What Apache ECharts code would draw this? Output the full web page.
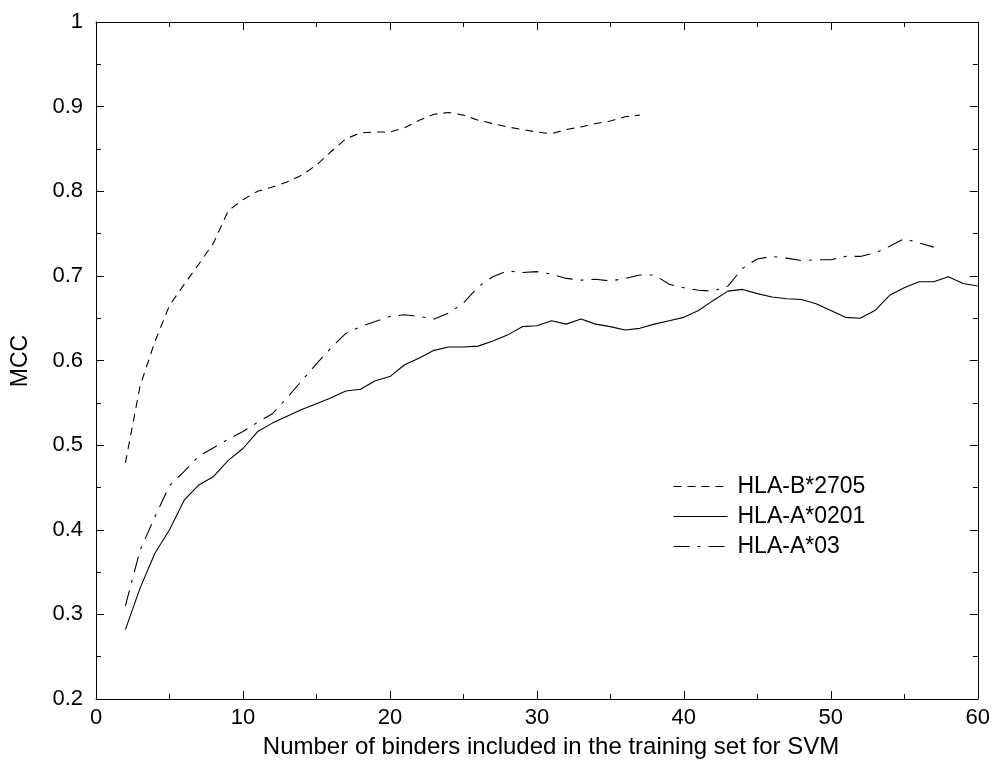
<!DOCTYPE html>
<html>
<head>
<meta charset="utf-8">
<script src="https://cdn.jsdelivr.net/npm/echarts@6/dist/echarts.min.js"></script>
<style>html,body{margin:0;padding:0;background:#fff;}#chart{width:993px;height:761px;}</style>
</head>
<body>
<div id="chart"></div>
<script>
var xValues = [2,3,4,5,6,7,8,9,10,11,12,13,14,15,16,17,18,19,20,21,22,23,24,25,26,27,28,29,30,31,32,33,34,35,36,37,38,39,40,41,42,43,44,45,46,47,48,49,50,51,52,53,54,55,56,57,58,59,60];
var seriesNames = ['HLA-B*2705', 'HLA-A*0201', 'HLA-A*03'];
var mccB2705 = [0.479,0.570,0.622,0.665,0.690,0.714,0.739,0.777,0.790,0.800,0.805,0.811,0.819,0.831,0.847,0.862,0.869,0.870,0.870,0.875,0.884,0.891,0.893,0.890,0.884,0.880,0.876,0.873,0.870,0.868,0.873,0.876,0.880,0.883,0.888,0.890];
var mccA0201 = [0.282,0.331,0.372,0.400,0.435,0.453,0.463,0.482,0.496,0.516,0.526,0.534,0.542,0.549,0.556,0.564,0.566,0.576,0.581,0.595,0.603,0.612,0.616,0.616,0.617,0.623,0.630,0.640,0.641,0.647,0.643,0.649,0.643,0.640,0.636,0.638,0.643,0.647,0.651,0.659,0.671,0.682,0.684,0.679,0.675,0.673,0.672,0.667,0.659,0.651,0.650,0.659,0.677,0.686,0.693,0.693,0.699,0.691,0.688];
var mccA03 = [0.310,0.376,0.415,0.452,0.469,0.487,0.497,0.507,0.516,0.527,0.537,0.556,0.576,0.596,0.615,0.632,0.640,0.646,0.652,0.654,0.652,0.649,0.656,0.668,0.687,0.699,0.706,0.704,0.705,0.702,0.697,0.695,0.696,0.694,0.697,0.701,0.701,0.690,0.686,0.683,0.682,0.688,0.709,0.720,0.723,0.721,0.718,0.719,0.719,0.723,0.723,0.727,0.735,0.744,0.739,0.734];
var xTicks = [0,10,20,30,40,50,60];
var yTicks = [0.2,0.3,0.4,0.5,0.6,0.7,0.8,0.9,1];
var xTitle = 'Number of binders included in the training set for SVM';
var yTitle = 'MCC';

function pairs(vals){ return vals.map(function(v,i){ return [xValues[i], v]; }); }

var font = 'Liberation Sans, Arial, Helvetica, sans-serif';
var chart = echarts.init(document.getElementById('chart'));

function axisCommon(showLabel, isX){
  return {
    type: 'value',
    axisLine: {show: true, onZero: false, lineStyle: {color: '#000', width: 1}},
    axisTick: {show: true, inside: true, length: 8, lineStyle: {color: '#000'}},
    minorTick: {show: true, splitNumber: 2, length: 5, lineStyle: {color: '#000'}},
    splitLine: {show: false},
    minorSplitLine: {show: false},
    axisLabel: {show: showLabel, color: '#000', fontFamily: font, fontSize: 22, margin: isX ? 8 : 13,
      formatter: function(v){ return String(Math.round(v*10)/10); }}
  };
}

var xBottom = Object.assign(axisCommon(true, true), {position: 'bottom', min: xTicks[0], max: xTicks[xTicks.length-1], interval: 10});
var xTop = Object.assign(axisCommon(false, true), {position: 'top', min: xTicks[0], max: xTicks[xTicks.length-1], interval: 10});
var yLeft = Object.assign(axisCommon(true, false), {position: 'left', min: yTicks[0], max: yTicks[yTicks.length-1], interval: 0.1});
var yRight = Object.assign(axisCommon(false, false), {position: 'right', min: yTicks[0], max: yTicks[yTicks.length-1], interval: 0.1});

var option = {
  backgroundColor: '#fff',
  animation: false,
  grid: {left: 96, top: 22, right: 12, bottom: 62, containLabel: false},
  xAxis: [xBottom, xTop],
  yAxis: [yLeft, yRight],
  legend: {
    orient: 'vertical', left: 668, top: 470, itemWidth: 54, itemHeight: 14, itemGap: 7,
    itemStyle: {opacity: 0},
    lineStyle: {width: 1},
    textStyle: {color: '#000', fontFamily: font, fontSize: 23, padding: [0,0,0,5]},
    data: seriesNames
  },
  graphic: [
    {type: 'text', x: 551, y: 747, style: {text: xTitle, font: '24px ' + font, fill: '#000', align: 'center', verticalAlign: 'middle'}},
    {type: 'text', x: 21, y: 361, rotation: Math.PI/2, style: {text: yTitle, font: '23px ' + font, fill: '#000', align: 'center', verticalAlign: 'middle'}}
  ],
  series: [
    {name: seriesNames[0], type: 'line', symbol: 'none', data: pairs(mccB2705), lineStyle: {color: '#000', width: 1.1, type: [8, 6]}, itemStyle: {color: '#000'}},
    {name: seriesNames[1], type: 'line', symbol: 'none', data: pairs(mccA0201), lineStyle: {color: '#000', width: 1.1, type: 'solid'}, itemStyle: {color: '#000'}},
    {name: seriesNames[2], type: 'line', symbol: 'none', data: pairs(mccA03), lineStyle: {color: '#000', width: 1.1, type: [16, 8, 3, 8]}, itemStyle: {color: '#000'}}
  ]
};
chart.setOption(option);
</script>
</body>
</html>
